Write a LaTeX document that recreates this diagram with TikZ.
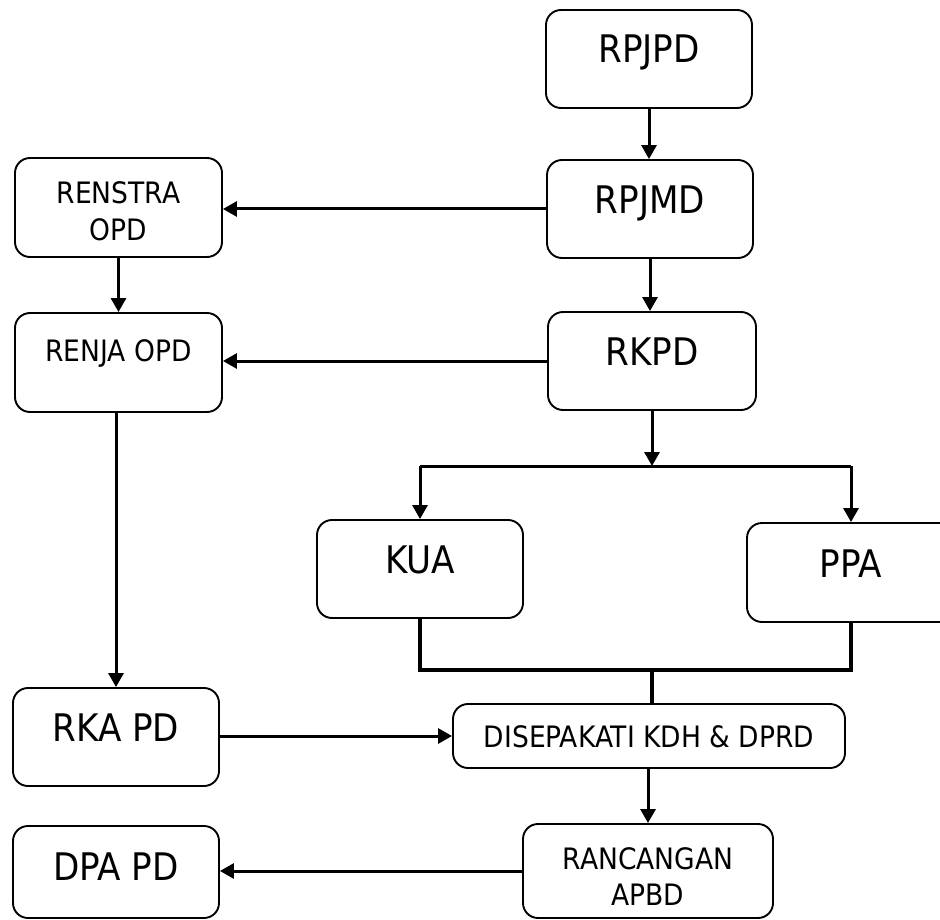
\documentclass[tikz,border=0pt]{standalone}
\usepackage{fontspec}
\setmainfont{DejaVu Sans Condensed}
\usetikzlibrary{arrows.meta}
\tikzset{
  box/.style={draw, line width=1.9pt, rounded corners=15pt, fill=white, inner sep=0pt},
  big/.style={font=\fontsize{38}{42}\selectfont, inner sep=0pt, text height=27.7pt, text depth=0pt},
  small/.style={font=\fontsize{29.5}{36}\selectfont, inner sep=0pt, align=center, text height=21.5pt, text depth=0pt},
  smalltwo/.style={font=\fontsize{29.5}{36.5}\selectfont, inner sep=0pt, align=center},
  arr/.style={line width=3pt, -{Triangle[width=15pt,length=14pt]}},
  ln/.style={line width=3pt},
  brk/.style={line width=3.6pt}
}
\begin{document}
\begin{tikzpicture}[x=1pt,y=-1pt]
\clip (0,0) rectangle (940,920);
\fill[white] (0,0) rectangle (940,920);
% boxes
\node[box, minimum width=206pt, minimum height=98pt] (rpjpd) at (649,59) {};
\node[box, minimum width=206pt, minimum height=98pt] (rpjmd) at (650,209) {};
\node[box, minimum width=208pt, minimum height=98pt] (rkpd) at (652,361) {};
\node[box, minimum width=207pt, minimum height=99pt] (renstra) at (118.5,207.5) {};
\node[box, minimum width=207pt, minimum height=99pt] (renja) at (118.5,362.5) {};
\node[box, minimum width=206pt, minimum height=98pt] (kua) at (420,569) {};
\node[box, minimum width=208pt, minimum height=99pt] (ppa) at (851,572.5) {};
\node[box, minimum width=206pt, minimum height=98pt] (rka) at (116,737) {};
\node[box, minimum width=392pt, minimum height=64pt] (dis) at (649,736) {};
\node[box, minimum width=250pt, minimum height=94pt] (ran) at (648,871) {};
\node[box, minimum width=206pt, minimum height=92pt] (dpa) at (116,872) {};
% texts
\node[big] (trpjpd) at ([yshift=10pt]rpjpd.center) {RPJPD};
\node[big] (trpjmd) at ([yshift=9pt]rpjmd.center) {RPJMD};
\node[big] (trkpd) at ([yshift=9pt]rkpd.center) {RKPD};
\node[big] (tkua) at ([yshift=9pt]kua.center) {KUA};
\node[big] (tppa) at ([yshift=8.5pt]ppa.center) {PPA};
\node[big] (trka) at ([yshift=9pt]rka.center) {RKA PD};
\node[big] (tdpa) at ([yshift=5pt]dpa.center) {DPA PD};
\node[smalltwo] (trenstra) at ([yshift=-4pt]renstra.center) {RENSTRA\\OPD};
\node[small] (trenja) at ([yshift=12pt]renja.center) {RENJA OPD};
\node[small] (tdis) at ([yshift=-1pt]dis.center) {DISEPAKATI KDH \& DPRD};
\node[smalltwo] (tran) at ([yshift=-5.5pt]ran.center) {RANCANGAN\\APBD};
% connectors
\coordinate (fork) at (652,466);
\coordinate (forkL) at (420,466);
\coordinate (forkR) at (851,466);
\coordinate (j1) at (652,670);
\draw[arr] (rpjpd) -- (rpjpd |- rpjmd.north);
\draw[arr] (rpjmd) -- (rpjmd |- rkpd.north);
\draw[arr] (rpjmd.west) -- (rpjmd.west -| renstra.east);
\draw[arr] (renstra) -- (renja);
\draw[arr] (rkpd.west) -- (rkpd.west -| renja.east);
\draw[arr] (renja.south -| rka) -- (rka.north);
\draw[arr] (rkpd.south) -- (fork);
\draw[ln] (forkL) -- (forkR);
\draw[arr] (forkL) -- (kua.north);
\draw[arr] (forkR) -- (ppa.north);
\draw[brk] (kua.south) |- (j1) -| (ppa.south);
\draw[brk] (j1) -- (j1 |- dis.north);
\draw[arr] (rka.east |- dis) -- (dis.west);
\draw[arr] (dis.south -| ran) -- (ran.north);
\draw[arr] (ran.west) -- (ran.west -| dpa.east);
\end{tikzpicture}
\end{document}
